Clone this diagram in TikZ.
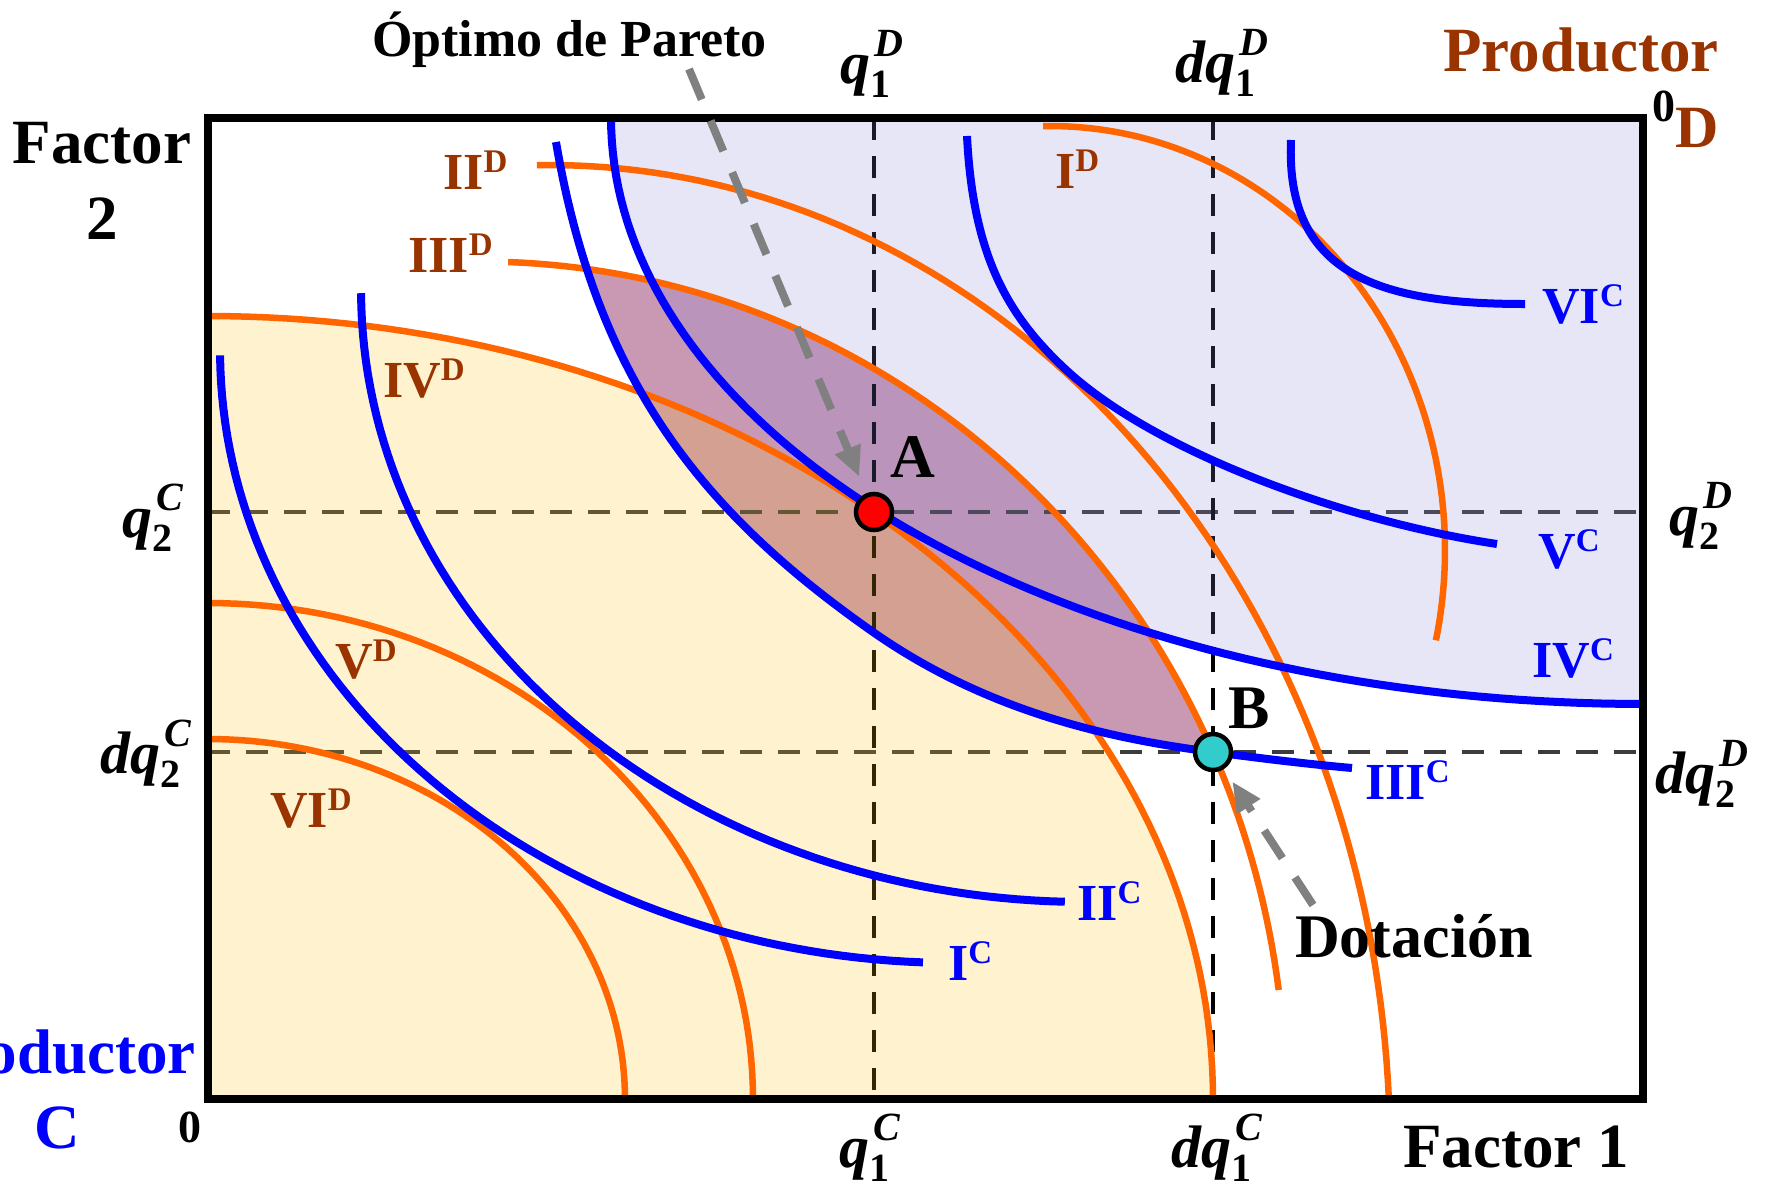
\documentclass[tikz,border=0pt]{standalone}
\usepackage{fontspec}
\setmainfont{Liberation Serif}
\usetikzlibrary{arrows.meta}
\definecolor{orng}{HTML}{FF6600}
\definecolor{dbrown}{HTML}{993300}
\definecolor{lensc}{HTML}{C999B3}
\definecolor{lavbase}{RGB}{130,130,215}
\definecolor{yelbase}{RGB}{255,191,15}
\definecolor{ptcyan}{HTML}{33CCCC}
\definecolor{hgray}{HTML}{3C3C3C}
\definecolor{arrgray}{HTML}{808080}
\newcommand\fs[1]{\fontsize{#1}{#1}\selectfont}
\newcommand\rn[2]{#1\raisebox{17pt}{\fs{33}#2}}
\newcommand\qlab[3]{\textit{#1}\rlap{\raisebox{-14pt}{\fs{40}#2}}\kern4pt\raisebox{27pt}{\fs{40}\itshape #3}}
% curves (pixel coordinates, y downwards)
\def\cvIC{plot[domain=0.5:87.5,samples=70,variable=\t] ({955-735*cos(\t)},{350+613*sin(\t)})}
\def\cvIIC{plot[domain=0.3:88.4,samples=70,variable=\t] ({1085-724*cos(\t)},{290+612*sin(\t)})}
\def\cvIIIC{(556,142) .. controls (597,382) and (703,513) .. (873,632) .. controls (983,709) and (1103,738) .. (1213,752) .. controls (1258,758) and (1307,764) .. (1352,768)}
\def\cvIVC{plot[domain=0:90,samples=80,variable=\t] ({1643-1032*cos(\t)},{118+586*sin(\t)})}
\def\cvVC{(967,136) .. controls (973,256) and (1008,315) .. (1063,367) .. controls (1153,452.5) and (1347,521.5) .. (1497,544)}
\def\cvVIC{(1291,140) .. controls (1285,275) and (1380,304) .. (1525,304)}
\def\cvID{plot[domain=91:-12.3,samples=80,variable=\t] ({1050+395*cos(\t)},{550-424*sin(\t)})}
\def\cvIID{plot[domain=90.9:3,samples=80,variable=\t] ({550+840*cos(\t)},{1150-985*sin(\t)})}
\def\cvIIID{plot[domain=88:7.54,samples=80,variable=\t] ({480+805.7*cos(\t)},{1100-838.5*sin(\t)})}
\def\cvIVD{plot[domain=90:0,samples=80,variable=\t] ({208+1005*cos(\t)},{1099-783*sin(\t)})}
\def\cvVD{plot[domain=90:0,samples=60,variable=\t] ({208+545*cos(\t)},{1099-496*sin(\t)})}
\def\cvVID{plot[domain=90:0,samples=60,variable=\t] ({208+417*cos(\t)},{1099-360*sin(\t)})}
\begin{document}
\begin{tikzpicture}[x=1pt,y=-1pt,
  bluec/.style={draw=blue,line width=8pt},
  orc/.style={draw=orng,line width=6.5pt},
  vdashed/.style={draw=black,line width=4pt,dash pattern=on 22pt off 16pt},
  hdashed/.style={draw=hgray,line width=4pt,dash pattern=on 22pt off 16pt},
  garrow/.style={draw=arrgray,line width=8pt,dash pattern=on 33pt off 23pt,-{Triangle[length=30pt,width=26pt]}},
  txt/.style={inner sep=0pt,anchor=base west,font=\bfseries\fs{63}},
  rnb/.style={inner sep=0pt,anchor=base west,font=\bfseries\fs{52},text=dbrown},
  rnc/.style={inner sep=0pt,anchor=base west,font=\bfseries\fs{52},text=blue},
  qlb/.style={inner sep=0pt,anchor=base west,font=\bfseries\fs{60}},
  dot/.style={circle,draw=black,line width=4.5pt,minimum size=36pt,inner sep=0pt}]
\useasboundingbox (0,0) rectangle (1767,1192);
\coordinate (q1T) at (874,118);   \coordinate (q1B) at (874,1099);
\coordinate (dq1T) at (1213,118); \coordinate (dq1B) at (1213,1099);
\coordinate (q2L) at (208,512);   \coordinate (q2R) at (1643,512);
\coordinate (dq2L) at (208,752);  \coordinate (dq2R) at (1643,752);
\coordinate (arrAs) at (689,69);  \coordinate (arrBs) at (1313,905);
% lens
\begin{scope}
  \clip \cvIIIC -- (1643,768) -- (1643,118) -- (556,118) -- cycle;
  \fill[lensc] \cvIIID -- (1290,1099) -- (208,1099) -- (208,262) -- cycle;
\end{scope}
% dashed guides
\draw[hdashed] (q2L) -- (q2R);
\draw[hdashed] (dq2L) -- (dq2R);
\draw[vdashed] (q1T) -- (q1B);
\draw[vdashed] (dq1T) -- (dq1B);
% translucent regions
\fill[lavbase,fill opacity=0.2] \cvIVC -- (1643,118) -- cycle;
\fill[yelbase,fill opacity=0.2] \cvIVD -- (208,1099) -- cycle;
% orange curves (D)
\draw[orc] \cvID;
\draw[orc] \cvIID;
\draw[orc] \cvIIID;
\draw[orc] \cvIVD;
\draw[orc] \cvVD;
\draw[orc] \cvVID;
% blue curves (C)
\draw[bluec] \cvIC;
\draw[bluec] \cvIIC;
\draw[bluec] \cvIIIC;
\draw[bluec] \cvIVC;
\draw[bluec] \cvVC;
\draw[bluec] \cvVIC;
% frame
\draw[line width=8pt] (208,118) rectangle (1643,1099);
% points
\node[dot,fill=red] (A) at (874,512) {};
\node[dot,fill=ptcyan] (B) at (1213,752) {};
% arrows
\draw[garrow,shorten >=18pt] (arrAs) -- (A);
\draw[garrow,shorten >=15pt] (arrBs) -- (B);
% texts
\node[txt,font=\bfseries\fs{52}] (opt) at (372,56) {Óptimo de Pareto};
\node[qlb] (lq1D) at (840,83) {\qlab{q}{1}{D}};
\node[qlb] (ldq1D) at (1175,82) {\qlab{dq}{1}{D}};
\node[txt,text=dbrown] (prodD) at (1443,71) {Productor};
\node[txt,font=\bfseries\fs{46}] (zeroD) at (1652,121) {0};
\node[txt,font=\bfseries\fs{60},text=dbrown] (letD) at (1675,147) {D};
\node[txt,anchor=base] (fac2a) at (102,163) {Factor};
\node[txt,anchor=base] (fac2b) at (102,239) {2};
\node[qlb] (lq2C) at (122,537) {\qlab{q}{2}{C}};
\node[qlb] (ldq2C) at (100,773) {\qlab{dq}{2}{C}};
\node[qlb] (lq2D) at (1669,535) {\qlab{q}{2}{D}};
\node[qlb] (ldq2D) at (1655,793) {\qlab{dq}{2}{D}};
\node[txt,anchor=base east,text=blue] (prodC) at (196,1073) {Productor};
\node[txt,anchor=base,text=blue] (letC) at (57,1148) {C};
\node[txt,font=\bfseries\fs{46}] (zeroC) at (178,1142) {0};
\node[qlb] (lq1C) at (839,1167) {\qlab{q}{1}{C}};
\node[qlb] (ldq1C) at (1171,1167) {\qlab{dq}{1}{C}};
\node[txt] (fac1) at (1403,1167) {Factor 1};
\node[txt,font=\bfseries\fs{62}] (labA) at (890,477) {A};
\node[txt,font=\bfseries\fs{62}] (labB) at (1228,728) {B};
\node[txt,font=\bfseries\fs{62}] (dot) at (1295,957) {Dotación};
% curve labels
\node[rnb] (lID) at (1055,188) {\rn{I}{D}};
\node[rnb] (lIID) at (443,189) {\rn{II}{D}};
\node[rnb] (lIIID) at (408,272) {\rn{III}{D}};
\node[rnb] (lIVD) at (383,397) {\rn{IV}{D}};
\node[rnb] (lVD) at (335,678) {\rn{V}{D}};
\node[rnb] (lVID) at (270,827) {\rn{VI}{D}};
\node[rnc] (lVIC) at (1542,323) {\rn{VI}{C}};
\node[rnc] (lVC) at (1538,568) {\rn{V}{C}};
\node[rnc] (lIVC) at (1532,677) {\rn{IV}{C}};
\node[rnc] (lIIIC) at (1365,799) {\rn{III}{C}};
\node[rnc] (lIIC) at (1077,920) {\rn{II}{C}};
\node[rnc] (lIC) at (948,980) {\rn{I}{C}};
\end{tikzpicture}
\end{document}
